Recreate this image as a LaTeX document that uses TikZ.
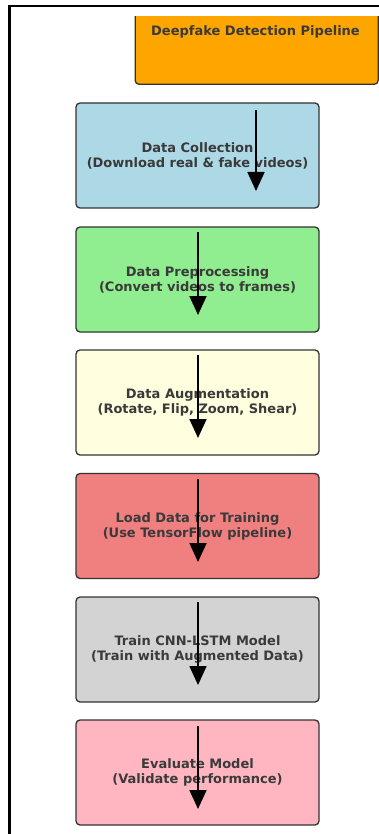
\documentclass[tikz,border=0pt]{standalone}
\usepackage{fontspec}
\setmainfont{DejaVu Sans}
\usetikzlibrary{arrows.meta}
\definecolor{cOrange}{HTML}{FFA500}
\definecolor{cBlue}{HTML}{ADD8E6}
\definecolor{cGreen}{HTML}{90EE90}
\definecolor{cYellow}{HTML}{FFFFE0}
\definecolor{cCoral}{HTML}{F08080}
\definecolor{cGray}{HTML}{D3D3D3}
\definecolor{cPink}{HTML}{FFB6C1}
\definecolor{cEdge}{HTML}{333333}
\definecolor{cText}{HTML}{3A3A3A}
\tikzset{
  stage/.style={draw=cEdge, line width=1.3pt, rounded corners=4pt,
    minimum width=243pt, minimum height=105pt, inner sep=0pt,
    align=center, text=cText, font=\bfseries\fontsize{13}{15}\selectfont},
  flow/.style={line width=1.8pt, -{Triangle[width=17pt,length=19pt]}}
}
\begin{document}
\begin{tikzpicture}[x=1pt,y=-1pt]
\useasboundingbox (0,0) rectangle (379,834);
% outer frame (only top and left edges fall inside the page)
\draw[line width=2.5pt] (9.5,834) -- (9.5,6) -- (379,6);
% title box, cut off at the top
\begin{scope}
  \clip (0,17) rectangle (379,834);
  \node[stage, fill=cOrange, minimum width=243pt, minimum height=90pt,
        anchor=south west] (title) at (134.5,85) {};
\end{scope}
\node[text=cText, font=\bfseries\fontsize{13}{15}\selectfont] (titletext) at (255.5,32) {Deepfake Detection Pipeline};
% pipeline stages
\node[stage, fill=cBlue]   (s1) at (197.5,155.5) {Data Collection\\(Download real \& fake videos)};
\node[stage, fill=cGreen]  (s2) at (197.5,279.5) {Data Preprocessing\\(Convert videos to frames)};
\node[stage, fill=cYellow] (s3) at (197.5,402.5) {Data Augmentation\\(Rotate, Flip, Zoom, Shear)};
\node[stage, fill=cCoral]  (s4) at (197.5,526) {Load Data for Training\\(Use TensorFlow pipeline)};
\node[stage, fill=cGray]   (s5) at (197.5,649.5) {Train CNN-LSTM Model\\(Train with Augmented Data)};
\node[stage, fill=cPink]   (s6) at (197.5,772.5) {Evaluate Model\\(Validate performance)};
% arrow end points
\coordinate (a1) at (256,110);  \coordinate (b1) at (256,191);
\coordinate (a2) at (198,232);  \coordinate (b2) at (198,315);
\coordinate (a3) at (198,355);  \coordinate (b3) at (198,438);
\coordinate (a4) at (198,479);  \coordinate (b4) at (198,562);
\coordinate (a5) at (198,602);  \coordinate (b5) at (198,685);
\coordinate (a6) at (198,726);  \coordinate (b6) at (198,809);
\foreach \i in {1,...,6} \draw[flow] (a\i) -- (b\i);
\end{tikzpicture}
\end{document}
